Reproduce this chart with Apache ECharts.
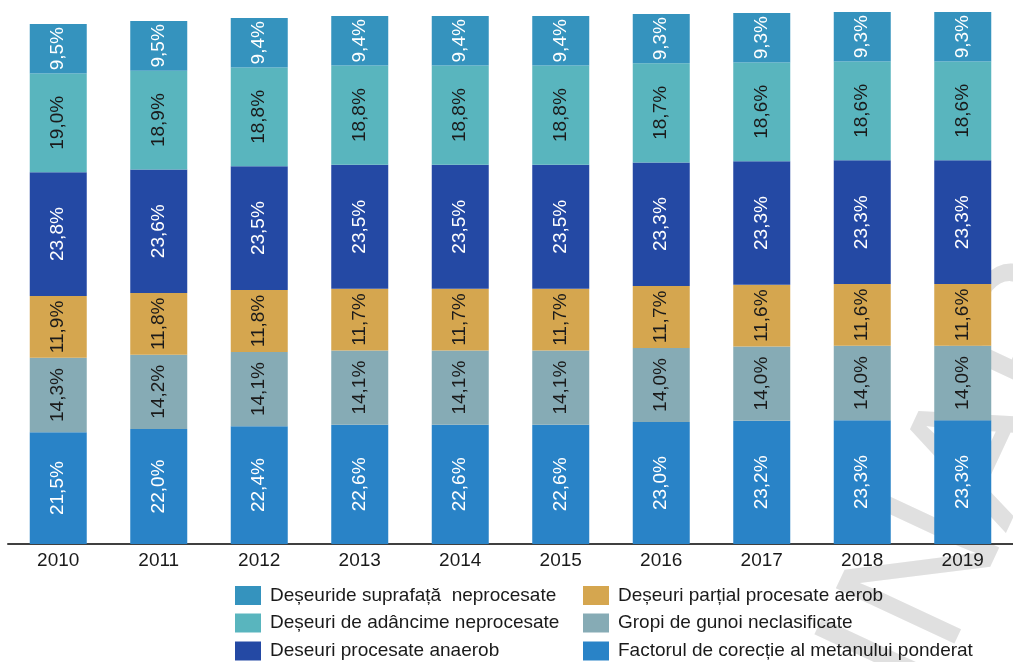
<!DOCTYPE html>
<html>
<head>
<meta charset="utf-8">
<script src="https://cdn.jsdelivr.net/npm/echarts@6/dist/echarts.min.js"></script>
<style>html,body{margin:0;padding:0;background:#fff}#c{width:1013px;height:662px}</style>
</head>
<body>
<div id="c"></div>
<script>
// Categories (years)
var years = ['2010','2011','2012','2013','2014','2015','2016','2017','2018','2019'];
// Share labels (%) for each waste type, as printed inside the bars
var sharesSuprafata = [9.5, 9.5, 9.4, 9.4, 9.4, 9.4, 9.3, 9.3, 9.3, 9.3];
var sharesAdancime  = [19.0, 18.9, 18.8, 18.8, 18.8, 18.8, 18.7, 18.6, 18.6, 18.6];
var sharesAnaerob   = [23.8, 23.6, 23.5, 23.5, 23.5, 23.5, 23.3, 23.3, 23.3, 23.3];
var sharesAerob     = [11.9, 11.8, 11.8, 11.7, 11.7, 11.7, 11.7, 11.6, 11.6, 11.6];
var sharesGropi     = [14.3, 14.2, 14.1, 14.1, 14.1, 14.1, 14.0, 14.0, 14.0, 14.0];
var sharesFactor    = [21.5, 22.0, 22.4, 22.6, 22.6, 22.6, 23.0, 23.2, 23.3, 23.3];
// Total bar height per year (axis hidden)
var totals = [0.520, 0.523, 0.526, 0.528, 0.528, 0.528, 0.530, 0.531, 0.532, 0.532];

var names = [
  'Deșeuride suprafață  neprocesate',
  'Deșeuri de adâncime neprocesate',
  'Deseuri procesate anaerob',
  'Deșeuri parțial procesate aerob',
  'Gropi de gunoi neclasificate',
  'Factorul de corecție al metanului ponderat'
];
var colors = ['#3593BE','#59B5BE','#2449A4','#D5A64F','#86ABB5','#2983C7'];
var labelColors = ['#ffffff','#1a1a1a','#ffffff','#1a1a1a','#1a1a1a','#ffffff'];
var shareSets = [sharesSuprafata, sharesAdancime, sharesAnaerob, sharesAerob, sharesGropi, sharesFactor];

function yearSum(i){ var s=0; for(var k=0;k<shareSets.length;k++) s+=shareSets[k][i]; return s; }
function segValues(shares){ return shares.map(function(v,i){ return v/yearSum(i)*totals[i]; }); }

// stacking order bottom -> top
var order = [5,4,3,2,1,0];
var series = order.map(function(k){
  return {
    name: names[k], type:'bar', stack:'t', barWidth:57,
    itemStyle:{color:colors[k]},
    data: segValues(shareSets[k]),
    label:{show:true, position:'inside', rotate:90, fontSize:19, fontFamily:'Liberation Sans, Arial, sans-serif',
      color:labelColors[k],
      formatter:function(p){ return shareSets[k][p.dataIndex].toFixed(1).replace('.',',')+'%'; }}
  };
});

var legendText = {fontSize:19, lineHeight:19, fontFamily:'"Liberation Sans", Arial, sans-serif', color:'#1a1a1a', padding:[0,0,0,4]};
var legendPos = [[235,586],[235,613.5],[235,641.5],[583,586],[583,613.5],[583,641.5]];
var legends = names.map(function(n,k){
  return {left:legendPos[k][0], top:legendPos[k][1], orient:'horizontal', icon:'rect', itemWidth:26, itemHeight:19,
    padding:0, data:[n], textStyle:legendText, selectedMode:false};
});

var chart = echarts.init(document.getElementById('c'));
chart.setOption({
  animation:false,
  backgroundColor:'#ffffff',
  color: colors,
  grid:{left:8, right:-15, top:4, bottom:118, containLabel:false},
  xAxis:{type:'category', data:years,
    axisLine:{lineStyle:{color:'#404040', width:2}}, axisTick:{show:false},
    axisLabel:{fontSize:19, fontFamily:'Liberation Sans, Arial, sans-serif', color:'#1a1a1a', margin:7}},
  yAxis:{type:'value', min:0, max:0.54, show:false, splitLine:{show:false}},
  legend: legends,
  graphic:[{type:'text', z:-10, x:1070, y:272, rotation:1.134, silent:true,
    style:{text:'PRELIMINAR', fontSize:190, fontFamily:'Liberation Sans, Arial, sans-serif', fill:'#e0e0e0', align:'right', verticalAlign:'middle'}}],
  series: series
});
</script>
</body>
</html>
